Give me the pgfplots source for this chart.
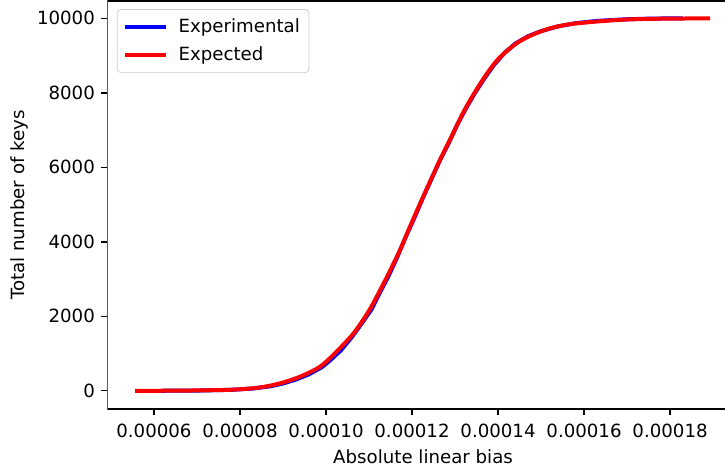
\documentclass[border=0pt]{standalone}
\usepackage{fontspec}
\setmainfont{DejaVu Sans}
\usepackage{pgfplots}
\pgfplotsset{compat=1.18}
\begin{document}
\begin{tikzpicture}
\begin{axis}[
  at={(0,0)}, anchor=south west,
  scale only axis, width=347.3pt, height=224.4pt,
  xmin=0.00004914, xmax=0.00019599,
  ymin=-491, ymax=10465,
  axis line style={draw=none},
  xtick={0.00006,0.00008,0.00010,0.00012,0.00014,0.00016,0.00018},
  ytick={0,2000,4000,6000,8000,10000},
  scaled x ticks=false, scaled y ticks=false,
  xticklabel style={yshift=-1.5pt, /pgf/number format/.cd, fixed, fixed zerofill, precision=5, assume math mode=true},
  yticklabel style={/pgf/number format/.cd, 1000 sep={}, assume math mode=true},
  tick align=outside, tick pos=left,
  major tick length=3.3pt,
  every tick/.style={black, line width=0.8pt},
  tick label style={font=\fontsize{10}{12}\selectfont},
  label style={font=\fontsize{10}{12}\selectfont},
  xlabel={Absolute linear bias},
  ylabel={Total number of keys},
  xlabel shift=-0.5pt,
  ylabel shift=-2pt,
  legend style={at={(0.0153,0.980)}, anchor=north west, draw=black!20, rounded corners=2pt,
    fill=white, fill opacity=0.8, text opacity=1, font=\fontsize{10}{12}\selectfont,
    inner xsep=3pt, inner ysep=3pt, row sep=2.5pt},
  legend cell align=left,
  legend image code/.code={\draw[#1] (0pt,0pt) -- (22.7pt,0pt); \path (26.5pt,0pt);},
]
\draw[black, line width=0.8pt] (rel axis cs:1,1) -- (rel axis cs:0,1) -- (rel axis cs:0,0) -- (rel axis cs:1,0);
\addplot[blue, line width=2.2pt] coordinates {
(0.0000618,0) (0.0000700,5) (0.0000780,25) (0.0000830,60) (0.0000870,118)
(0.0000900,195) (0.0000930,300) (0.0000960,440) (0.0000990,630) (0.0001010,820)
(0.0001035,1090) (0.0001060,1440) (0.0001085,1840) (0.0001105,2170) (0.0001125,2630)
(0.0001145,3070) (0.0001165,3570) (0.0001185,4120) (0.0001205,4630) (0.0001225,5170)
(0.0001245,5680) (0.0001265,6190) (0.0001285,6640) (0.0001305,7140) (0.0001325,7570)
(0.0001345,7970) (0.0001365,8330) (0.0001390,8740) (0.0001415,9070) (0.0001440,9320)
(0.0001470,9520) (0.0001500,9655) (0.0001540,9785) (0.0001580,9868) (0.0001630,9930)
(0.0001700,9975) (0.0001760,9993) (0.0001830,10000)
};
\addlegendentry{Experimental}
\addplot[red, line width=2.2pt, smooth, tension=0.5] coordinates {
(0.0000556,0) (0.0000650,2) (0.0000753,19) (0.0000800,40) (0.0000850,95)
(0.0000893,199) (0.0000940,380) (0.0000986,645) (0.0001020,1000) (0.0001064,1541)
(0.0001100,2150) (0.0001126,2704) (0.0001150,3250) (0.0001172,3778) (0.0001195,4400)
(0.0001219,5032) (0.0001242,5620) (0.0001265,6195) (0.0001295,6900) (0.0001325,7600)
(0.0001365,8360) (0.0001400,8900) (0.0001443,9329) (0.0001480,9560) (0.0001521,9731)
(0.0001560,9830) (0.0001598,9882) (0.0001676,9954) (0.0001750,9985) (0.0001893,10000)
};
\addlegendentry{Expected}
\end{axis}
\pgfresetboundingbox
\useasboundingbox (-59pt,-34.65pt) rectangle (339.7pt,224.95pt);
\end{tikzpicture}
\end{document}
